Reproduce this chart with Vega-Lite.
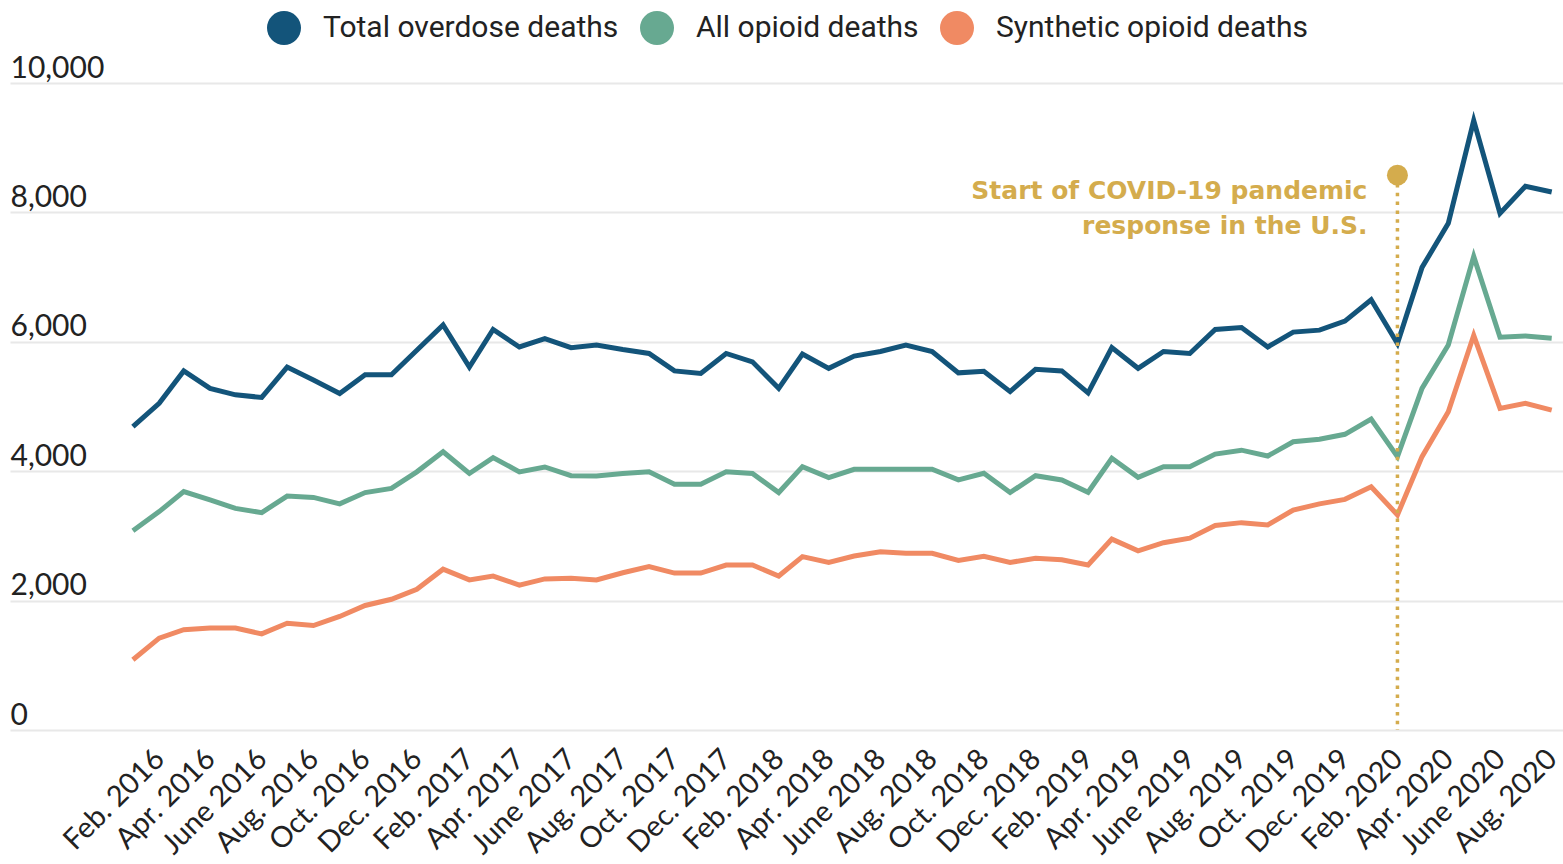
{
  "$schema": "https://vega.github.io/schema/vega-lite/v6.json",
  "width": 1553,
  "height": 647,
  "autosize": {"type": "none"},
  "padding": {"left": 10, "top": 83, "right": 0, "bottom": 134},
  "background": "white",
  "config": {"view": {"stroke": null}, "font": "Lato"},
  "datasets": {
    "deaths": [
      {"month": "2016-01-01", "series": "Total overdose deaths", "deaths": 4690},
      {"month": "2016-02-01", "series": "Total overdose deaths", "deaths": 5050},
      {"month": "2016-03-01", "series": "Total overdose deaths", "deaths": 5550},
      {"month": "2016-04-01", "series": "Total overdose deaths", "deaths": 5280},
      {"month": "2016-05-01", "series": "Total overdose deaths", "deaths": 5180},
      {"month": "2016-06-01", "series": "Total overdose deaths", "deaths": 5140},
      {"month": "2016-07-01", "series": "Total overdose deaths", "deaths": 5610},
      {"month": "2016-08-01", "series": "Total overdose deaths", "deaths": 5410},
      {"month": "2016-09-01", "series": "Total overdose deaths", "deaths": 5200},
      {"month": "2016-10-01", "series": "Total overdose deaths", "deaths": 5490},
      {"month": "2016-11-01", "series": "Total overdose deaths", "deaths": 5490},
      {"month": "2016-12-01", "series": "Total overdose deaths", "deaths": 5870},
      {"month": "2017-01-01", "series": "Total overdose deaths", "deaths": 6260},
      {"month": "2017-02-01", "series": "Total overdose deaths", "deaths": 5610},
      {"month": "2017-03-01", "series": "Total overdose deaths", "deaths": 6190},
      {"month": "2017-04-01", "series": "Total overdose deaths", "deaths": 5920},
      {"month": "2017-05-01", "series": "Total overdose deaths", "deaths": 6050},
      {"month": "2017-06-01", "series": "Total overdose deaths", "deaths": 5910},
      {"month": "2017-07-01", "series": "Total overdose deaths", "deaths": 5950},
      {"month": "2017-08-01", "series": "Total overdose deaths", "deaths": 5880},
      {"month": "2017-09-01", "series": "Total overdose deaths", "deaths": 5820},
      {"month": "2017-10-01", "series": "Total overdose deaths", "deaths": 5550},
      {"month": "2017-11-01", "series": "Total overdose deaths", "deaths": 5510},
      {"month": "2017-12-01", "series": "Total overdose deaths", "deaths": 5820},
      {"month": "2018-01-01", "series": "Total overdose deaths", "deaths": 5690},
      {"month": "2018-02-01", "series": "Total overdose deaths", "deaths": 5280},
      {"month": "2018-03-01", "series": "Total overdose deaths", "deaths": 5810},
      {"month": "2018-04-01", "series": "Total overdose deaths", "deaths": 5590},
      {"month": "2018-05-01", "series": "Total overdose deaths", "deaths": 5780},
      {"month": "2018-06-01", "series": "Total overdose deaths", "deaths": 5850},
      {"month": "2018-07-01", "series": "Total overdose deaths", "deaths": 5950},
      {"month": "2018-08-01", "series": "Total overdose deaths", "deaths": 5850},
      {"month": "2018-09-01", "series": "Total overdose deaths", "deaths": 5520},
      {"month": "2018-10-01", "series": "Total overdose deaths", "deaths": 5545},
      {"month": "2018-11-01", "series": "Total overdose deaths", "deaths": 5230},
      {"month": "2018-12-01", "series": "Total overdose deaths", "deaths": 5575},
      {"month": "2019-01-01", "series": "Total overdose deaths", "deaths": 5550},
      {"month": "2019-02-01", "series": "Total overdose deaths", "deaths": 5210},
      {"month": "2019-03-01", "series": "Total overdose deaths", "deaths": 5910},
      {"month": "2019-04-01", "series": "Total overdose deaths", "deaths": 5590},
      {"month": "2019-05-01", "series": "Total overdose deaths", "deaths": 5850},
      {"month": "2019-06-01", "series": "Total overdose deaths", "deaths": 5820},
      {"month": "2019-07-01", "series": "Total overdose deaths", "deaths": 6190},
      {"month": "2019-08-01", "series": "Total overdose deaths", "deaths": 6220},
      {"month": "2019-09-01", "series": "Total overdose deaths", "deaths": 5920},
      {"month": "2019-10-01", "series": "Total overdose deaths", "deaths": 6150},
      {"month": "2019-11-01", "series": "Total overdose deaths", "deaths": 6180},
      {"month": "2019-12-01", "series": "Total overdose deaths", "deaths": 6320},
      {"month": "2020-01-01", "series": "Total overdose deaths", "deaths": 6650},
      {"month": "2020-02-01", "series": "Total overdose deaths", "deaths": 5975},
      {"month": "2020-03-01", "series": "Total overdose deaths", "deaths": 7150},
      {"month": "2020-04-01", "series": "Total overdose deaths", "deaths": 7830},
      {"month": "2020-05-01", "series": "Total overdose deaths", "deaths": 9420},
      {"month": "2020-06-01", "series": "Total overdose deaths", "deaths": 7985},
      {"month": "2020-07-01", "series": "Total overdose deaths", "deaths": 8405},
      {"month": "2020-08-01", "series": "Total overdose deaths", "deaths": 8315},

      {"month": "2016-01-01", "series": "All opioid deaths", "deaths": 3080},
      {"month": "2016-02-01", "series": "All opioid deaths", "deaths": 3375},
      {"month": "2016-03-01", "series": "All opioid deaths", "deaths": 3685},
      {"month": "2016-04-01", "series": "All opioid deaths", "deaths": 3555},
      {"month": "2016-05-01", "series": "All opioid deaths", "deaths": 3425},
      {"month": "2016-06-01", "series": "All opioid deaths", "deaths": 3360},
      {"month": "2016-07-01", "series": "All opioid deaths", "deaths": 3615},
      {"month": "2016-08-01", "series": "All opioid deaths", "deaths": 3595},
      {"month": "2016-09-01", "series": "All opioid deaths", "deaths": 3495},
      {"month": "2016-10-01", "series": "All opioid deaths", "deaths": 3670},
      {"month": "2016-11-01", "series": "All opioid deaths", "deaths": 3735},
      {"month": "2016-12-01", "series": "All opioid deaths", "deaths": 3990},
      {"month": "2017-01-01", "series": "All opioid deaths", "deaths": 4300},
      {"month": "2017-02-01", "series": "All opioid deaths", "deaths": 3965},
      {"month": "2017-03-01", "series": "All opioid deaths", "deaths": 4210},
      {"month": "2017-04-01", "series": "All opioid deaths", "deaths": 3990},
      {"month": "2017-05-01", "series": "All opioid deaths", "deaths": 4065},
      {"month": "2017-06-01", "series": "All opioid deaths", "deaths": 3930},
      {"month": "2017-07-01", "series": "All opioid deaths", "deaths": 3925},
      {"month": "2017-08-01", "series": "All opioid deaths", "deaths": 3965},
      {"month": "2017-09-01", "series": "All opioid deaths", "deaths": 3990},
      {"month": "2017-10-01", "series": "All opioid deaths", "deaths": 3800},
      {"month": "2017-11-01", "series": "All opioid deaths", "deaths": 3800},
      {"month": "2017-12-01", "series": "All opioid deaths", "deaths": 3990},
      {"month": "2018-01-01", "series": "All opioid deaths", "deaths": 3965},
      {"month": "2018-02-01", "series": "All opioid deaths", "deaths": 3670},
      {"month": "2018-03-01", "series": "All opioid deaths", "deaths": 4070},
      {"month": "2018-04-01", "series": "All opioid deaths", "deaths": 3900},
      {"month": "2018-05-01", "series": "All opioid deaths", "deaths": 4030},
      {"month": "2018-06-01", "series": "All opioid deaths", "deaths": 4030},
      {"month": "2018-07-01", "series": "All opioid deaths", "deaths": 4030},
      {"month": "2018-08-01", "series": "All opioid deaths", "deaths": 4030},
      {"month": "2018-09-01", "series": "All opioid deaths", "deaths": 3865},
      {"month": "2018-10-01", "series": "All opioid deaths", "deaths": 3967},
      {"month": "2018-11-01", "series": "All opioid deaths", "deaths": 3670},
      {"month": "2018-12-01", "series": "All opioid deaths", "deaths": 3930},
      {"month": "2019-01-01", "series": "All opioid deaths", "deaths": 3865},
      {"month": "2019-02-01", "series": "All opioid deaths", "deaths": 3675},
      {"month": "2019-03-01", "series": "All opioid deaths", "deaths": 4200},
      {"month": "2019-04-01", "series": "All opioid deaths", "deaths": 3905},
      {"month": "2019-05-01", "series": "All opioid deaths", "deaths": 4070},
      {"month": "2019-06-01", "series": "All opioid deaths", "deaths": 4070},
      {"month": "2019-07-01", "series": "All opioid deaths", "deaths": 4265},
      {"month": "2019-08-01", "series": "All opioid deaths", "deaths": 4325},
      {"month": "2019-09-01", "series": "All opioid deaths", "deaths": 4235},
      {"month": "2019-10-01", "series": "All opioid deaths", "deaths": 4455},
      {"month": "2019-11-01", "series": "All opioid deaths", "deaths": 4495},
      {"month": "2019-12-01", "series": "All opioid deaths", "deaths": 4570},
      {"month": "2020-01-01", "series": "All opioid deaths", "deaths": 4805},
      {"month": "2020-02-01", "series": "All opioid deaths", "deaths": 4225},
      {"month": "2020-03-01", "series": "All opioid deaths", "deaths": 5280},
      {"month": "2020-04-01", "series": "All opioid deaths", "deaths": 5950},
      {"month": "2020-05-01", "series": "All opioid deaths", "deaths": 7320},
      {"month": "2020-06-01", "series": "All opioid deaths", "deaths": 6070},
      {"month": "2020-07-01", "series": "All opioid deaths", "deaths": 6090},
      {"month": "2020-08-01", "series": "All opioid deaths", "deaths": 6055},

      {"month": "2016-01-01", "series": "Synthetic opioid deaths", "deaths": 1085},
      {"month": "2016-02-01", "series": "Synthetic opioid deaths", "deaths": 1420},
      {"month": "2016-03-01", "series": "Synthetic opioid deaths", "deaths": 1550},
      {"month": "2016-04-01", "series": "Synthetic opioid deaths", "deaths": 1575},
      {"month": "2016-05-01", "series": "Synthetic opioid deaths", "deaths": 1575},
      {"month": "2016-06-01", "series": "Synthetic opioid deaths", "deaths": 1485},
      {"month": "2016-07-01", "series": "Synthetic opioid deaths", "deaths": 1650},
      {"month": "2016-08-01", "series": "Synthetic opioid deaths", "deaths": 1615},
      {"month": "2016-09-01", "series": "Synthetic opioid deaths", "deaths": 1755},
      {"month": "2016-10-01", "series": "Synthetic opioid deaths", "deaths": 1925},
      {"month": "2016-11-01", "series": "Synthetic opioid deaths", "deaths": 2020},
      {"month": "2016-12-01", "series": "Synthetic opioid deaths", "deaths": 2175},
      {"month": "2017-01-01", "series": "Synthetic opioid deaths", "deaths": 2485},
      {"month": "2017-02-01", "series": "Synthetic opioid deaths", "deaths": 2320},
      {"month": "2017-03-01", "series": "Synthetic opioid deaths", "deaths": 2380},
      {"month": "2017-04-01", "series": "Synthetic opioid deaths", "deaths": 2240},
      {"month": "2017-05-01", "series": "Synthetic opioid deaths", "deaths": 2335},
      {"month": "2017-06-01", "series": "Synthetic opioid deaths", "deaths": 2345},
      {"month": "2017-07-01", "series": "Synthetic opioid deaths", "deaths": 2320},
      {"month": "2017-08-01", "series": "Synthetic opioid deaths", "deaths": 2430},
      {"month": "2017-09-01", "series": "Synthetic opioid deaths", "deaths": 2525},
      {"month": "2017-10-01", "series": "Synthetic opioid deaths", "deaths": 2425},
      {"month": "2017-11-01", "series": "Synthetic opioid deaths", "deaths": 2425},
      {"month": "2017-12-01", "series": "Synthetic opioid deaths", "deaths": 2550},
      {"month": "2018-01-01", "series": "Synthetic opioid deaths", "deaths": 2550},
      {"month": "2018-02-01", "series": "Synthetic opioid deaths", "deaths": 2380},
      {"month": "2018-03-01", "series": "Synthetic opioid deaths", "deaths": 2680},
      {"month": "2018-04-01", "series": "Synthetic opioid deaths", "deaths": 2590},
      {"month": "2018-05-01", "series": "Synthetic opioid deaths", "deaths": 2690},
      {"month": "2018-06-01", "series": "Synthetic opioid deaths", "deaths": 2755},
      {"month": "2018-07-01", "series": "Synthetic opioid deaths", "deaths": 2730},
      {"month": "2018-08-01", "series": "Synthetic opioid deaths", "deaths": 2730},
      {"month": "2018-09-01", "series": "Synthetic opioid deaths", "deaths": 2620},
      {"month": "2018-10-01", "series": "Synthetic opioid deaths", "deaths": 2685},
      {"month": "2018-11-01", "series": "Synthetic opioid deaths", "deaths": 2590},
      {"month": "2018-12-01", "series": "Synthetic opioid deaths", "deaths": 2655},
      {"month": "2019-01-01", "series": "Synthetic opioid deaths", "deaths": 2630},
      {"month": "2019-02-01", "series": "Synthetic opioid deaths", "deaths": 2550},
      {"month": "2019-03-01", "series": "Synthetic opioid deaths", "deaths": 2950},
      {"month": "2019-04-01", "series": "Synthetic opioid deaths", "deaths": 2770},
      {"month": "2019-05-01", "series": "Synthetic opioid deaths", "deaths": 2895},
      {"month": "2019-06-01", "series": "Synthetic opioid deaths", "deaths": 2965},
      {"month": "2019-07-01", "series": "Synthetic opioid deaths", "deaths": 3160},
      {"month": "2019-08-01", "series": "Synthetic opioid deaths", "deaths": 3205},
      {"month": "2019-09-01", "series": "Synthetic opioid deaths", "deaths": 3170},
      {"month": "2019-10-01", "series": "Synthetic opioid deaths", "deaths": 3400},
      {"month": "2019-11-01", "series": "Synthetic opioid deaths", "deaths": 3495},
      {"month": "2019-12-01", "series": "Synthetic opioid deaths", "deaths": 3565},
      {"month": "2020-01-01", "series": "Synthetic opioid deaths", "deaths": 3760},
      {"month": "2020-02-01", "series": "Synthetic opioid deaths", "deaths": 3325},
      {"month": "2020-03-01", "series": "Synthetic opioid deaths", "deaths": 4225},
      {"month": "2020-04-01", "series": "Synthetic opioid deaths", "deaths": 4920},
      {"month": "2020-05-01", "series": "Synthetic opioid deaths", "deaths": 6100},
      {"month": "2020-06-01", "series": "Synthetic opioid deaths", "deaths": 4970},
      {"month": "2020-07-01", "series": "Synthetic opioid deaths", "deaths": 5050},
      {"month": "2020-08-01", "series": "Synthetic opioid deaths", "deaths": 4945}
    ],
    "covid": [
      {"month": "2020-02-01", "deaths": 8575, "label": "Start of COVID-19 pandemic\nresponse in the U.S."}
    ]
  },
  "layer": [
    {
      "data": {"name": "deaths"},
      "mark": {"type": "line", "strokeWidth": 5},
      "encoding": {
        "x": {
          "field": "month",
          "type": "temporal",
          "scale": {
            "type": "utc",
            "domain": [
              {"year": 2015, "month": 8, "date": 9, "utc": true},
              {"year": 2020, "month": 8, "date": 14, "hours": 8, "utc": true}
            ]
          },
          "axis": {
            "title": null,
            "values": [
              {"year": 2016, "month": 2, "date": 1, "utc": true}, {"year": 2016, "month": 4, "date": 1, "utc": true},
              {"year": 2016, "month": 6, "date": 1, "utc": true}, {"year": 2016, "month": 8, "date": 1, "utc": true},
              {"year": 2016, "month": 10, "date": 1, "utc": true}, {"year": 2016, "month": 12, "date": 1, "utc": true},
              {"year": 2017, "month": 2, "date": 1, "utc": true}, {"year": 2017, "month": 4, "date": 1, "utc": true},
              {"year": 2017, "month": 6, "date": 1, "utc": true}, {"year": 2017, "month": 8, "date": 1, "utc": true},
              {"year": 2017, "month": 10, "date": 1, "utc": true}, {"year": 2017, "month": 12, "date": 1, "utc": true},
              {"year": 2018, "month": 2, "date": 1, "utc": true}, {"year": 2018, "month": 4, "date": 1, "utc": true},
              {"year": 2018, "month": 6, "date": 1, "utc": true}, {"year": 2018, "month": 8, "date": 1, "utc": true},
              {"year": 2018, "month": 10, "date": 1, "utc": true}, {"year": 2018, "month": 12, "date": 1, "utc": true},
              {"year": 2019, "month": 2, "date": 1, "utc": true}, {"year": 2019, "month": 4, "date": 1, "utc": true},
              {"year": 2019, "month": 6, "date": 1, "utc": true}, {"year": 2019, "month": 8, "date": 1, "utc": true},
              {"year": 2019, "month": 10, "date": 1, "utc": true}, {"year": 2019, "month": 12, "date": 1, "utc": true},
              {"year": 2020, "month": 2, "date": 1, "utc": true}, {"year": 2020, "month": 4, "date": 1, "utc": true},
              {"year": 2020, "month": 6, "date": 1, "utc": true}, {"year": 2020, "month": 8, "date": 1, "utc": true}
            ],
            "labelExpr": "['Jan.', 'Feb.', 'Mar.', 'Apr.', 'May', 'June', 'July', 'Aug.', 'Sept.', 'Oct.', 'Nov.', 'Dec.'][utcmonth(datum.value)] + ' ' + utcyear(datum.value)",
            "labelAngle": -45,
            "labelAlign": "right",
            "labelBaseline": "middle",
            "labelPadding": 24,
            "labelFont": "Lato",
            "labelFontSize": 29,
            "labelColor": "#222222",
            "labelOverlap": false,
            "labelBound": false,
            "labelFlush": false,
            "ticks": false,
            "tickSize": 0,
            "domain": false,
            "grid": false
          }
        },
        "y": {
          "field": "deaths",
          "type": "quantitative",
          "scale": {"domain": [0, 10000]},
          "axis": {
            "title": null,
            "values": [0, 2000, 4000, 6000, 8000, 10000],
            "format": ",d",
            "labelAlign": "left",
            "labelBaseline": "alphabetic",
            "labelPadding": 0,
            "labelOffset": -6,
            "labelFont": "Lato",
            "labelFontSize": 30,
            "labelColor": "#222222",
            "ticks": false,
            "tickSize": 0,
            "domain": false,
            "grid": true,
            "gridColor": "#e8e8e8",
            "gridWidth": 2
          }
        },
        "color": {
          "field": "series",
          "type": "nominal",
          "scale": {
            "domain": ["Total overdose deaths", "All opioid deaths", "Synthetic opioid deaths"],
            "range": ["#13547a", "#67a991", "#f08a63"]
          },
          "legend": {
            "title": null,
            "orient": "none",
            "legendX": 257,
            "legendY": -72,
            "direction": "horizontal",
            "symbolType": "circle",
            "symbolSize": 1156,
            "symbolStrokeWidth": 0,
            "symbolOpacity": 1,
            "labelFont": "Roboto",
            "labelFontSize": 30,
            "labelColor": "#222222",
            "labelLimit": 500,
            "labelOffset": 22,
            "columnPadding": 21,
            "encode": {
              "symbols": {"update": {"fill": {"scale": "color", "field": "value"}, "stroke": {"value": "transparent"}}}
            }
          }
        }
      }
    },
    {
      "data": {"name": "covid"},
      "mark": {"type": "rule", "color": "#d4ac4d", "strokeWidth": 3.5, "strokeDash": [3.5, 5.3]},
      "encoding": {
        "x": {"field": "month", "type": "temporal"},
        "y": {"field": "deaths", "type": "quantitative"},
        "y2": {"datum": 0}
      }
    },
    {
      "data": {"name": "covid"},
      "mark": {"type": "point", "filled": true, "shape": "circle", "size": 441, "color": "#d4ac4d", "opacity": 1},
      "encoding": {
        "x": {"field": "month", "type": "temporal"},
        "y": {"field": "deaths", "type": "quantitative"}
      }
    },
    {
      "data": {"name": "covid"},
      "mark": {
        "type": "text",
        "align": "right",
        "baseline": "alphabetic",
        "dx": -30,
        "dy": 24,
        "lineBreak": "\n",
        "lineHeight": 35,
        "font": "DejaVu Sans",
        "fontWeight": "bold",
        "fontSize": 25,
        "color": "#d4ac4d"
      },
      "encoding": {
        "x": {"field": "month", "type": "temporal"},
        "y": {"field": "deaths", "type": "quantitative"},
        "text": {"field": "label"}
      }
    }
  ]
}
